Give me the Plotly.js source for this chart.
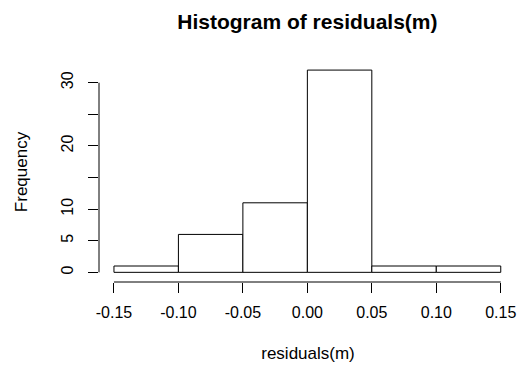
<!DOCTYPE html>
<html>
<head>
<meta charset="utf-8">
<script src="https://cdn.plot.ly/plotly-3.0.1.min.js"></script>
<style>html,body{margin:0;padding:0;background:#fff;}#chart{width:521px;height:367px;}</style>
</head>
<body>
<div id="chart"></div>
<script>
// Data
const binStarts = [-0.15, -0.10, -0.05, 0.00, 0.05, 0.10];
const binWidth = 0.05;
const counts = [1, 6, 11, 32, 1, 1];
const xTicks = [-0.15, -0.10, -0.05, 0.00, 0.05, 0.10, 0.15];
const xTickLabels = ["-0.15", "-0.10", "-0.05", "0.00", "0.05", "0.10", "0.15"];
const yTicks = [0, 5, 10, 15, 20, 25, 30];
const yTickLabels = ["0", "5", "10", "", "20", "", "30"];

const centers = binStarts.map(s => s + binWidth / 2);
const font = "Liberation Sans, Arial, sans-serif";

const trace = {
  type: 'bar',
  x: centers,
  y: counts,
  width: binStarts.map(() => binWidth),
  marker: { color: '#ffffff', line: { color: '#000000', width: 1 } },
  hoverinfo: 'skip'
};

const layout = {
  width: 521, height: 367,
  margin: { l: 99, r: 4, t: 62, b: 85 },
  paper_bgcolor: '#fff', plot_bgcolor: '#fff',
  showlegend: false,
  bargap: 0,
  font: { family: font, size: 16, color: '#000' },
  title: { text: '<b>Histogram of residuals(m)</b>', font: { family: font, size: 21, color: '#000' }, x: 0.59, xanchor: 'center', xref: 'container', y: 0.941, yref: 'container', yanchor: 'middle' },
  xaxis: {
    range: [-0.1616, 0.1626],
    tickmode: 'array', tickvals: xTicks, ticktext: xTickLabels,
    ticks: 'outside', ticklen: 10, tickcolor: '#000', tickwidth: 1,
    ticklabelstandoff: 6,
    showgrid: false, zeroline: false, showline: false,
    tickfont: { family: font, size: 16, color: '#000' },
    title: { text: 'residuals(m)', font: { family: font, size: 17, color: '#000' }, standoff: 26 }
  },
  yaxis: {
    range: [-1.53, 33.28],
    tickmode: 'array', tickvals: yTicks, ticktext: yTickLabels,
    ticks: 'outside', ticklen: 10, tickcolor: '#000', tickwidth: 1,
    tickangle: -90,
    ticklabelstandoff: 9,
    showgrid: false, zeroline: false, showline: false,
    tickfont: { family: font, size: 16, color: '#000' },
    title: { text: 'Frequency', font: { family: font, size: 17, color: '#000' }, standoff: 26 }
  },
  shapes: [
    { type: 'line', xref: 'x', yref: 'paper', x0: xTicks[0], x1: xTicks[xTicks.length - 1], y0: 0, y1: 0, line: { color: '#000', width: 1 } },
    { type: 'line', xref: 'paper', yref: 'y', x0: 0, x1: 0, y0: yTicks[0], y1: yTicks[yTicks.length - 1], line: { color: '#000', width: 1 } }
  ]
};

Plotly.newPlot('chart', [trace], layout, { staticPlot: true, displayModeBar: false });
</script>
</body>
</html>
